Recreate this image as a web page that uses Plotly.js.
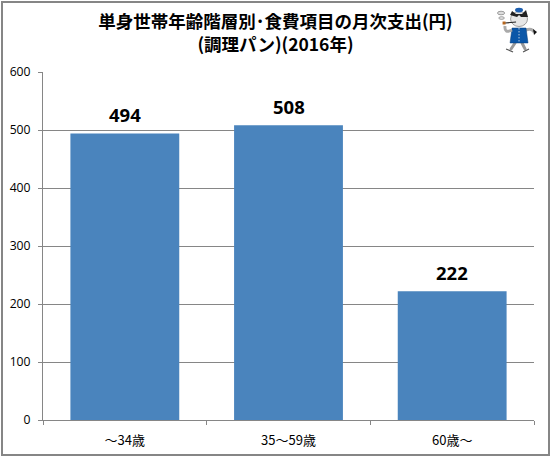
<!DOCTYPE html>
<html><head><meta charset="utf-8">
<script src="https://cdn.plot.ly/plotly-3.0.1.min.js"></script>
<style>
html,body{margin:0;padding:0;background:#fff;width:551px;height:457px;overflow:hidden}
#g{position:absolute;left:0;top:0;width:551px;height:457px}
#frame{position:absolute;left:1px;top:1px;width:545px;height:451px;border:2px solid #868686;pointer-events:none}
</style></head><body>
<div id="g"></div><div id="frame"></div>
<script>
const categories = ["〜34歳", "35〜59歳", "60歳〜"];
const values = [494, 508, 222];
const valueLabels = ["494", "508", "222"];
const titleText = "単身世帯年齢階層別･食費項目の月次支出(円)<br>(調理パン)(2016年)";
const yTicks = [0, 100, 200, 300, 400, 500, 600];

const jp = '"Noto Sans CJK JP", "Noto Sans", sans-serif';
const mascot = `<svg xmlns="http://www.w3.org/2000/svg" width="40" height="46" viewBox="0 0 40 46">
<ellipse cx="4" cy="6" rx="3.6" ry="1.8" fill="#ddd" stroke="#666" stroke-width=".6"/>
<ellipse cx="4.5" cy="11" rx="2.8" ry="1.4" fill="#ddd" stroke="#777" stroke-width=".6"/>
<path d="M18 36 L14 42 M25 36 L28 42" stroke="#999" stroke-width="3" stroke-linecap="round"/>
<path d="M9 42 L16 45 M26 45 L32 42" stroke="#555" stroke-width="1.2"/>
<path d="M29 23 Q35 21 37 25" stroke="#aaa" stroke-width="3" fill="none"/>
<path d="M36 22 l4 3 -3 3z" fill="#111"/>
<path d="M15 21 L29 21 L31 36 L13 36Z" fill="#0b57a8" stroke="#063a78" stroke-width=".5"/>
<path d="M22 21 V36" stroke="#bcd" stroke-width="1" stroke-dasharray="1.5 1.5"/>
<ellipse cx="22" cy="12" rx="8.5" ry="7.5" fill="#e6e6e6" stroke="#666" stroke-width=".6"/>
<path d="M13 8 L15 4 L19 7 L25 7 L29 3 L31 10 L24 10 L22 8 L20 10Z" fill="#222"/>
<ellipse cx="22" cy="3" rx="4" ry="2.4" fill="#1d5fb0"/>
<path d="M8 16 L19 15" stroke="#222" stroke-width="1.2"/>
<rect x="5.5" y="14.5" width="3" height="3" fill="#b5651d"/>
<path d="M15 23 Q7 27 8 19" stroke="#aaa" stroke-width="3" fill="none"/>
</svg>`;

const plotW = 492, plotH = 348;

Plotly.newPlot('g', [{
  type: 'bar',
  x: categories,
  y: values,
  marker: {color: '#4a84bd', line: {width: 0}},
  hoverinfo: 'x+y'
}], {
  width: 551, height: 457,
  margin: {l: 43, r: 17, t: 72, b: 37, pad: 0},
  paper_bgcolor: '#fff', plot_bgcolor: '#fff',
  bargap: 0.335,
  showlegend: false,
  font: {family: jp, color: '#000', size: 12},
  title: {
    text: titleText,
    font: {family: jp, size: 17.5, color: '#000', weight: 700},
    x: 0.5, xanchor: 'center', y: 0.938, yanchor: 'top'
  },
  xaxis: {
    type: 'category',
    tickson: 'boundaries',
    ticks: 'outside', ticklen: 4, tickcolor: '#868686', tickwidth: 1,
    showline: true, linecolor: '#868686', linewidth: 1,
    showgrid: false, zeroline: false,
    ticklabelstandoff: 8,
    tickfont: {family: jp, size: 13, color: '#000'},
    automargin: false
  },
  yaxis: {
    range: [0, 600], tickvals: yTicks,
    ticks: 'outside', ticklen: 4, tickcolor: '#868686', tickwidth: 1,
    showline: true, linecolor: '#868686', linewidth: 1,
    showgrid: true, gridcolor: '#868686', gridwidth: 1,
    zeroline: false,
    ticklabelstandoff: 5,
    tickfont: {family: '"Open Sans", sans-serif', size: 12.2, color: '#000'},
    automargin: false
  },
  annotations: categories.map((c, i) => ({
    x: c, y: values[i], xref: 'x', yref: 'y',
    text: valueLabels[i], showarrow: false,
    yanchor: 'bottom', yshift: 4,
    font: {family: '"Open Sans", sans-serif', size: 18.5, color: '#000', weight: 700}
  })),
  images: [{
    source: 'data:image/svg+xml;utf8,' + encodeURIComponent(mascot),
    xref: 'paper', yref: 'paper',
    x: (498 - 43) / plotW, y: (420 - 7) / plotH, sizex: 40 / plotW, sizey: 46 / plotH,
    xanchor: 'left', yanchor: 'top', layer: 'above'
  }]
}, {displayModeBar: false, staticPlot: true});
</script>
</body></html>
